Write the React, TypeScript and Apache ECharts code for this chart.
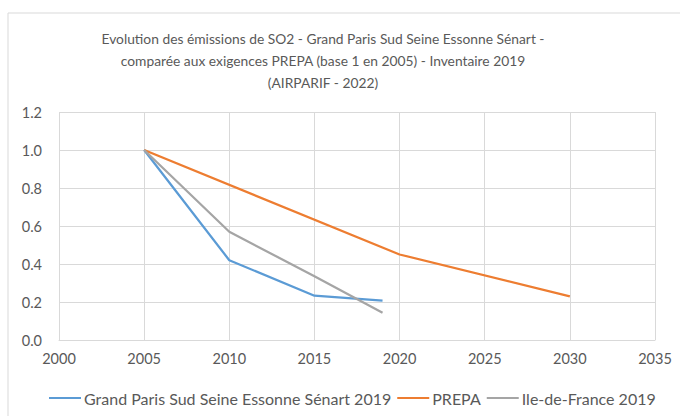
import React, { useEffect, useRef } from "react";
import * as echarts from "echarts";

const titleLines = [
  "Evolution des émissions de SO2 - Grand Paris Sud Seine Essonne Sénart -",
  "comparée aux exigences PREPA (base 1 en 2005) - Inventaire 2019",
  "(AIRPARIF - 2022)",
];
const seriesNames = ["Grand Paris Sud Seine Essonne Sénart 2019", "PREPA", "Ile-de-France 2019"];
const gpsYears = [2005, 2010, 2015, 2019];
const gpsValues = [1.0, 0.42, 0.233, 0.207];
const prepaYears = [2005, 2020, 2030];
const prepaValues = [1.0, 0.45, 0.23];
const idfYears = [2005, 2010, 2015, 2019];
const idfValues = [1.0, 0.57, 0.335, 0.143];
const colors = ["#5b9bd5", "#ed7d31", "#a5a5a5"];

const FONT = "Lato";
const TXT = "#595959";

export default function App() {
  const ref = useRef<HTMLDivElement>(null);
  useEffect(() => {
    document.body.style.margin = "0";
    const chart = echarts.init(ref.current!, null, { renderer: "svg" });
    const mk = (xs: number[], ys: number[]) => xs.map((x, i) => [x, ys[i]]);
    chart.setOption({
      animation: false,
      backgroundColor: "#ffffff",
      graphic: [
        {
          type: "rect",
          shape: { x: 8, y: 13, width: 700, height: 430 },
          style: { fill: "none", stroke: "#d9d9d9", lineWidth: 1 },
          silent: true,
        },
        ...titleLines.map((t, i) => ({
          type: "text",
          x: 323,
          y: 38 + i * 22,
          style: {
            text: t,
            fill: TXT,
            font: `13.8px ${FONT}`,
            textAlign: "center",
            textVerticalAlign: "middle",
          },
        })),
      ],
      grid: { left: 59, right: 25, top: 112, bottom: 76, containLabel: false },
      xAxis: {
        type: "value",
        min: 2000,
        max: 2035,
        interval: 5,
        axisLine: { show: true, lineStyle: { color: "#d9d9d9", width: 1 } },
        axisTick: { show: false },
        splitLine: { show: true, lineStyle: { color: "#d9d9d9", width: 1 } },
        axisLabel: {
          color: TXT,
          fontFamily: FONT,
          fontSize: 14.5,
          margin: 11,
          formatter: (v: number) => String(v),
        },
      },
      yAxis: {
        type: "value",
        min: 0,
        max: 1.2,
        interval: 0.2,
        axisLine: { show: false },
        axisTick: { show: false },
        splitLine: { show: true, lineStyle: { color: "#d9d9d9", width: 1 } },
        axisLabel: {
          color: TXT,
          fontFamily: FONT,
          fontSize: 14.5,
          margin: 17,
          formatter: (v: number) => v.toFixed(1),
        },
      },
      legend: {
        top: 385,
        left: 44,
        icon: "rect",
        itemWidth: 32,
        itemHeight: 2,
        itemGap: 6,
        textStyle: { color: TXT, fontFamily: FONT, fontSize: 16, padding: [0, 0, 0, -2] },
        data: seriesNames,
      },
      series: [
        { name: seriesNames[0], data: mk(gpsYears, gpsValues) },
        { name: seriesNames[1], data: mk(prepaYears, prepaValues) },
        { name: seriesNames[2], data: mk(idfYears, idfValues) },
      ].map((s, i) => ({
        ...s,
        type: "line",
        symbol: "none",
        color: colors[i],
        lineStyle: { color: colors[i], width: 2.25 },
      })),
    });
    return () => chart.dispose();
  }, []);
  return <div ref={ref} style={{ width: 680, height: 416 }} />;
}
